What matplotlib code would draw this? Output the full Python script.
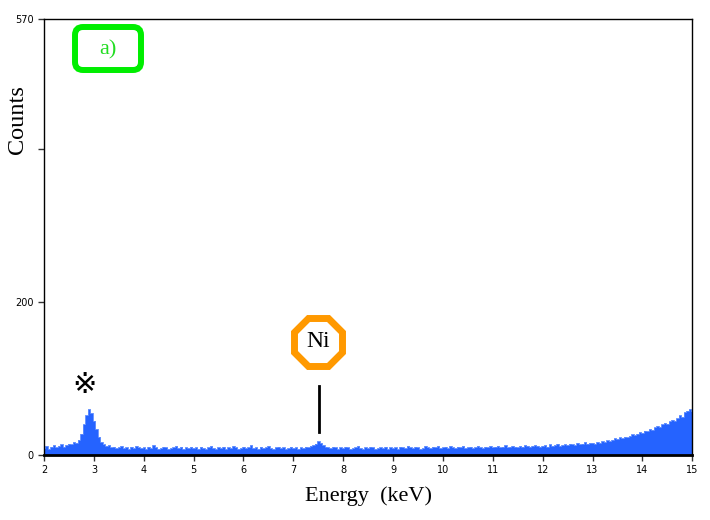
import matplotlib.pyplot as plt
import numpy as np
from matplotlib.patches import FancyBboxPatch
from matplotlib.transforms import IdentityTransform

# energy channels, 0.05 keV apart, from 2 to 15 keV
energy = np.round(np.arange(2.0, 15.0001, 0.05), 2)

# counts, one row per keV (20 channels each)
counts = [
    9, 12, 8, 11, 13, 10, 12, 14, 11, 13, 15, 14, 17, 16, 20, 28, 40, 52, 60, 55,   # 2
    45, 34, 24, 17, 14, 12, 13, 10, 11, 9, 10, 12, 9, 10, 8, 11, 9, 12, 10, 9,      # 3
    10, 8, 11, 9, 13, 10, 8, 9, 11, 10, 8, 9, 10, 12, 9, 11, 8, 10, 9, 11,          # 4
    9, 10, 8, 11, 9, 8, 10, 12, 9, 8, 10, 9, 11, 8, 10, 9, 12, 10, 8, 9,            # 5
    11, 9, 10, 13, 9, 10, 8, 11, 9, 10, 12, 9, 8, 10, 11, 9, 10, 8, 9, 11,          # 6
    9, 10, 8, 10, 9, 11, 10, 12, 13, 15, 18, 16, 13, 11, 10, 9, 11, 10, 8, 10,      # 7
    9, 11, 10, 8, 9, 10, 12, 9, 8, 10, 9, 11, 10, 8, 9, 10, 9, 11, 8, 10,           # 8
    9, 10, 8, 11, 10, 9, 12, 10, 9, 11, 10, 8, 9, 12, 10, 9, 11, 10, 12, 9,         # 9
    10, 11, 9, 12, 10, 9, 11, 10, 12, 9, 10, 11, 9, 10, 12, 10, 9, 11, 10, 12,      # 10
    10, 11, 12, 10, 11, 13, 10, 11, 12, 11, 10, 12, 11, 13, 12, 11, 12, 13, 12, 11, # 11
    12, 13, 11, 14, 12, 13, 15, 12, 13, 14, 13, 15, 14, 13, 16, 14, 15, 17, 15, 16, # 12
    16, 15, 17, 16, 18, 17, 19, 18, 20, 22, 21, 23, 22, 24, 23, 25, 27, 26, 28, 30, # 13
    29, 32, 31, 34, 33, 36, 38, 37, 40, 42, 41, 44, 46, 45, 48, 52, 50, 56, 58, 60, # 14
    57,
]

x_ticks = list(range(2, 16))
y_ticks = [0, 200, 400, 570]
y_tick_labels = ['0', '200', '', '570']

fig = plt.figure(figsize=(7.1, 5.2), dpi=100)
ax = fig.add_axes([0.062, 0.125, 0.913, 0.838])

blue = '#2563FF'
ax.fill_between(energy, counts, step='mid', color=blue, lw=0)
ax.step(energy, counts, where='mid', color='#5C8BFF', lw=0.6)

ax.set_xlim(2, 15)
ax.set_ylim(0, 570)
ax.set_xticks(x_ticks)
ax.set_yticks(y_ticks)
ax.set_yticklabels(y_tick_labels)
ax.tick_params(direction='out', length=4, width=1, labelsize=7, color='#333333')

for s in ax.spines.values():
    s.set_color('black')
    s.set_linewidth(1)
ax.spines['bottom'].set_linewidth(2)

serif = 'Liberation Serif'
ax.set_xlabel('Energy  (keV)', family=serif, fontsize=16, labelpad=8)
fig.text(0.025, 0.77, 'Counts', family=serif, fontsize=17.5, rotation=90,
         ha='center', va='center')

# a) label in green rounded box (pixel coordinates)
box = FancyBboxPatch((75, 450), 66, 43, boxstyle='round,pad=0,rounding_size=8',
                     transform=IdentityTransform(), fc='white', ec='#00EE00', lw=4.3)
fig.patches.append(box)
fig.text(108 / 710, 1 - 50 / 520, 'a)', family=serif, fontsize=16, color='#22DD22',
         ha='center', va='center')

# Ni marker
ax.plot(7.5, 148, marker='8', markersize=38, mfc='white', mec='#FF9900', mew=5,
        clip_on=False, zorder=5)
ax.text(7.5, 148, 'Ni', family=serif, fontsize=17, ha='center', va='center', zorder=6)
ax.plot([7.52, 7.52], [30, 90], color='black', lw=2)

# reference mark above the 2.9 keV peak
ax.text(2.82, 91, '\u203b', family=['DejaVu Sans', 'Noto Sans CJK JP'], fontsize=21,
        ha='center', va='center')

fig.savefig('out.png', dpi=100)
